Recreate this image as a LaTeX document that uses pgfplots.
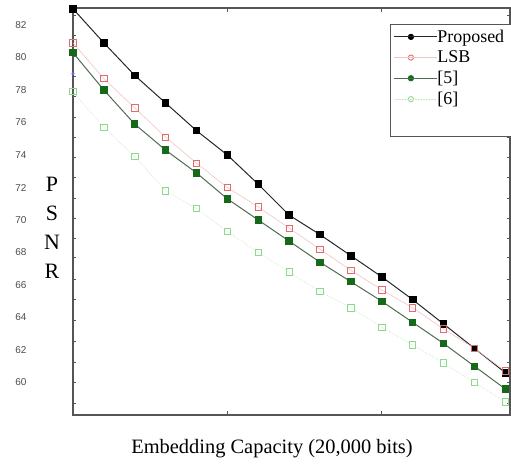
\documentclass[border=0pt]{standalone}
\usepackage{fontspec}
\setmainfont{Liberation Serif}
\newfontfamily\ticksf{Liberation Sans}
\usepackage{pgfplots}
\pgfplotsset{compat=1.18}

\definecolor{lsbred}{HTML}{DE6E6E}
\definecolor{lsbline}{HTML}{F3C4C4}
\definecolor{fivegreen}{HTML}{17691A}
\definecolor{fiveline}{HTML}{4F6B4F}
\definecolor{sixgreen}{HTML}{8FD88F}
\definecolor{sixline}{HTML}{BDEBBD}
\definecolor{axisgray}{HTML}{555555}

\begin{document}
\begin{tikzpicture}
\path[use as bounding box, clip] (0,0) rectangle (511bp,464bp);

\begin{axis}[
    at={(73bp,49bp)}, anchor=south west,
    scale only axis,
    width=437bp, height=407bp,
    xmin=0, xmax=14.15,
    ymin=58, ymax=83.05,
    clip=false,
    axis line style={axisgray, line width=1.1pt},
    xtick={5,10}, xticklabels={},
    xtick style={axisgray, line width=0.8pt},
    major tick length=4bp,
    ytick={60,62,...,82},
    every major y tick/.append style={draw=none},
    minor ytick={58.73,60,61.26,62.56,63.85,65.15,66.38,67.68,68.85,70.1,71.35,72.6,73.85,75.1,76.35,77.6,78.85,80.1,81.35,82.6},
    minor tick length=3bp,
    every minor y tick/.append style={axisgray, line width=0.6pt},
    yticklabel style={font=\ticksf\fontsize{10}{12}\selectfont, text=black!70, xshift=-43bp},
    /pgf/number format/assume math mode=true,
    legend style={
        at={(0.7254,0.9607)}, anchor=north west,
        draw=axisgray, line width=0.9pt, fill=white,
        font=\fontsize{18}{18}\selectfont,
        row sep=4bp, inner xsep=3bp, inner ysep=4bp,
        legend cell align=left,
        nodes={inner xsep=0bp, inner ysep=1.5bp},
    },
    legend image code/.code={
        \draw[#1, mark repeat=2, mark phase=2] plot coordinates {(0bp,0bp) (17bp,0bp) (26bp,0bp)};
        \path (0bp,0bp) -- (43bp,0bp);
    },
]

\addplot[color=black!85, line width=1pt, mark=square*, mark size=3.3bp,
    mark options={fill=black, draw=black},
    legend image post style={mark=*, mark size=2.6bp}] coordinates {
    (0,83.0) (1,80.9) (2,78.9) (3,77.2) (4,75.5) (5,74.0) (6,72.2) (7,70.3)
    (8,69.1) (9,67.8) (10,66.5) (11,65.1) (12,63.6) (13,62.1) (14,60.6)
};
\addlegendentry{\makebox[90bp][l]{Proposed}}

\addplot[color=lsbline, line width=0.6pt, mark=square, mark size=3.2bp,
    mark options={draw=lsbred, line width=0.9pt, fill=none},
    legend image post style={mark=o, mark size=2.6bp}] coordinates {
    (0,80.9) (1,78.7) (2,76.9) (3,75.1) (4,73.5) (5,72.0) (6,70.8) (7,69.5)
    (8,68.2) (9,66.9) (10,65.7) (11,64.6) (12,63.3) (13,62.1) (14,60.7)
};
\addlegendentry{LSB}

\addplot[color=fiveline, line width=1pt, mark=square*, mark size=3.2bp,
    mark options={fill=fivegreen, draw=fivegreen},
    legend image post style={mark=*, mark size=2.6bp}] coordinates {
    (0,80.3) (1,78.0) (2,75.9) (3,74.3) (4,72.9) (5,71.3) (6,70.0) (7,68.7)
    (8,67.4) (9,66.2) (10,65.0) (11,63.7) (12,62.4) (13,61.0) (14,59.6)
};
\addlegendentry{[5]}

\addplot[color=sixline, line width=0.6pt, densely dotted, mark=square, mark size=3.2bp,
    mark options={draw=sixgreen, line width=0.9pt, fill=none, solid},
    legend image post style={mark=o, mark size=2.6bp}] coordinates {
    (0,77.9) (1,75.7) (2,73.9) (3,71.8) (4,70.7) (5,69.3) (6,68.0) (7,66.8)
    (8,65.6) (9,64.6) (10,63.4) (11,62.3) (12,61.2) (13,60.0) (14,58.8)
};
\addlegendentry{[6]}

\addlegendimage{empty legend}
\addlegendentry{\rule{0pt}{16bp}}

\addplot[only marks, mark=*, mark size=1.3bp, color=blue!60, forget plot] coordinates {(0,79.0)};
\end{axis}

\node[font=\fontsize{22}{29}\selectfont, align=center, anchor=center] at (52bp,236bp) {P\\S\\N\\R};
\node[font=\fontsize{20.5}{22}\selectfont, anchor=center] at (272bp,15bp) {Embedding Capacity (20,000 bits)};
\end{tikzpicture}
\end{document}
